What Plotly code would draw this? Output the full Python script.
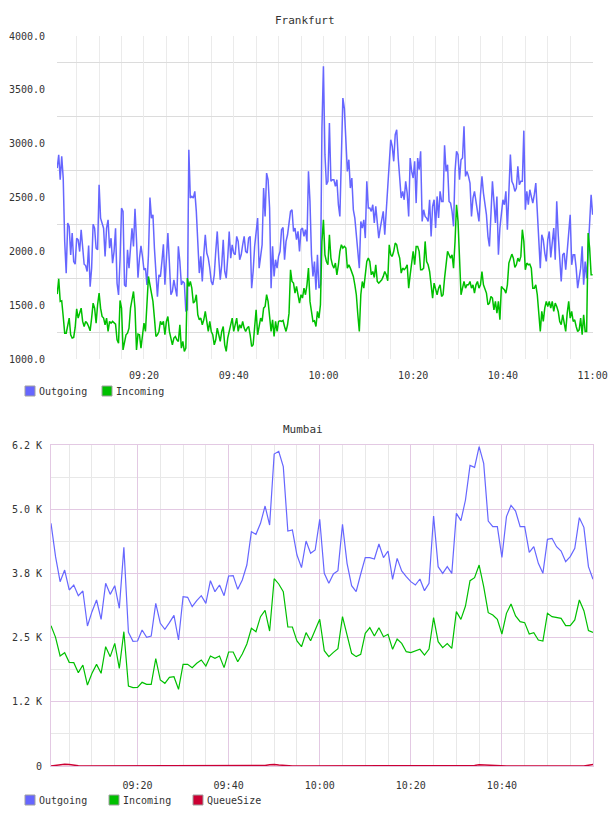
import pandas as pd
import plotly.graph_objects as go

# ---------------- Frankfurt (20 s samples, 09:00:40 .. 11:00:00) ----------------
fra_start = "2024-01-01 09:00:40"
fra_n = 359
fra_outgoing = [
    2773, 2897, 2665, 2882, 2680, 2091, 1797, 2262, 2231, 1967,
    2169, 1905, 1880, 2122, 2107, 1998, 2200, 1998, 1880, 1868,
    1812, 2054, 1672, 1843, 2252, 2215, 2029, 2014, 2618, 2308,
    2246, 2215, 1952, 2215, 2292, 2029, 2122, 1889, 1998, 2215,
    1703, 1595, 1921, 2401, 2370, 1688, 1672, 2014, 1843, 2045,
    2215, 2045, 2395, 2107, 1756, 1936, 2051, 1952, 1827, 1843,
    1688, 1967, 2500, 2308, 2339, 2029, 1781, 1579, 1781, 1765,
    1905, 2066,
    1689, 2000, 2170, 1891, 1597, 1628, 1736, 1658, 1581, 2046,
    1906, 1689, 1720, 1705, 1442, 1457, 2944, 2495, 2510, 2495,
    2557, 2371, 2123, 1798, 1953, 1720, 1968, 2154, 1984, 1937,
    1844, 1720, 1689, 1782, 2000, 2185, 1937, 1736, 1875, 2108,
    1813, 1751, 1937, 2185, 1937, 2061, 1984, 1968, 2139, 2092,
    1922, 1968, 2061, 2139, 2000, 1984, 2123, 2139, 1658, 1813,
    2046, 2201, 2309, 1844, 1968, 2061, 2588, 2324, 2727, 2665,
    2402, 1658,
    2046, 1767, 1922, 1844, 1953, 2000, 2201, 2222, 1922, 2092,
    2154, 2278, 2371, 2386, 2185, 2216, 2108, 2185, 2000, 2201,
    2216, 2139, 2201, 2092, 2743, 2464, 1968, 1767, 1906, 1643,
    1968, 1658, 1689, 3145, 3719, 2898, 2619, 2650, 3192, 2650,
    2665, 2665, 2603, 2665, 2433, 2324, 3052, 3424, 3325, 3037,
    2743, 2851, 2588, 2681, 2386, 2309, 2170, 1968, 1844, 2278,
    2216, 2293, 2123, 2650, 2402, 2402, 2371, 2433, 2263, 2417,
    2247, 2123,
    2216, 2293, 2371, 2154, 2371, 2650, 2805, 3037, 2975, 2836,
    3083, 3130, 2867, 2634, 2495, 2557, 2479, 2650, 2541, 2324,
    2867, 2743, 2681, 2836, 2448, 2867, 2758, 2929, 2278, 2386,
    2324, 2309, 2278, 2479, 2139, 2417, 2479, 2216, 2510, 2309,
    2557, 2464, 2464, 2984, 2743, 2805, 2464, 2448, 2371, 2232,
    2743, 2929, 2898, 2665, 2851, 2867, 3161, 2696, 2743, 2696,
    2634, 2324, 2495, 2557, 2464, 2371, 2278, 2526, 2696, 2541,
    2433, 2340,
    2139, 2046, 2340, 2650, 2464, 2263, 2510, 1968, 2216, 2371,
    2479, 2433, 2557, 2201, 2588, 2898, 2650, 2619, 2557, 2588,
    2789, 2619, 2650, 2650, 3121, 2386, 2557, 2433, 2572, 2495,
    2448, 2526, 2634, 2371, 2092, 1844, 2154, 2108, 1984, 1906,
    2108, 2185, 1943, 2123, 2216, 1922, 2464, 2154, 1937, 1720,
    1968, 1984, 1829, 2030, 2139, 2340, 1875, 1968, 1968, 1844,
    1658, 1751, 1844, 2046, 1689, 1906, 1751, 2000, 2278, 2526,
    2340,
]
fra_incoming = [
    1603, 1745, 1535, 1541, 1395, 1240, 1240, 1324, 1380, 1225,
    1194, 1200, 1293, 1466, 1380, 1426, 1472, 1349, 1302, 1349,
    1333, 1302, 1262, 1380, 1519, 1472, 1333, 1504, 1612, 1472,
    1395, 1380, 1318, 1380, 1256, 1349, 1333, 1349, 1333, 1324,
    1178, 1147, 1544, 1472, 1085, 1163, 1225, 1240, 1287, 1472,
    1566, 1627, 1472, 1085, 1231, 1225, 1101, 1209, 1333, 1256,
    1566, 1767, 1689, 1627, 1535, 1380, 1209, 1225, 1256, 1349,
    1318, 1349,
    1225, 1349, 1395, 1256, 1194, 1132, 1194, 1209, 1178, 1163,
    1318, 1101, 1163, 1070, 1101, 1751, 1674, 1720, 1658, 1519,
    1535, 1597, 1411, 1364, 1380, 1318, 1364, 1442, 1349, 1256,
    1349, 1256, 1225, 1132, 1178, 1287, 1225, 1163, 1256, 1302,
    1132, 1070, 1194, 1256, 1287, 1380, 1256, 1333, 1380, 1256,
    1318, 1287, 1349, 1287, 1256, 1287, 1302, 1225, 1116, 1132,
    1318, 1457, 1225, 1318, 1380, 1349, 1472, 1488, 1597, 1535,
    1349, 1256,
    1364, 1209, 1349, 1256, 1349, 1355, 1349, 1358, 1302, 1256,
    1318, 1426, 1829, 1720, 1705, 1612, 1674, 1612, 1519, 1597,
    1566, 1658, 1597, 1689, 1844, 1535, 1426, 1349, 1355, 1302,
    1442, 1380, 1504, 2092, 2293, 1968, 1906, 1875, 2154, 1937,
    1875, 1844, 1891, 1782, 1875, 2000, 2061, 2030, 2046, 2030,
    1844, 1875, 1844, 1813, 1767, 1689, 1597, 1411, 1256, 1597,
    1720, 1658, 1782, 1906, 1937, 1906, 1782, 1813, 1757, 1875,
    1720, 1705,
    1720, 1736, 1767, 1813, 1782, 1727, 2061, 1968, 1953, 2000,
    2077, 2061, 1984, 1937, 1798, 1844, 1829, 1844, 1875, 1658,
    1782, 1906, 2000, 1875, 2046, 2046, 2000, 1829, 1829, 1844,
    2092, 1906, 1875, 1813, 1658, 1566, 1705, 1658, 1597, 1658,
    1689, 1581, 1597, 1751, 1906, 2000, 1968, 1937, 1968, 1844,
    2092, 2433, 2278, 1844, 1597, 1658, 1720, 1658, 1689, 1689,
    1720, 1658, 1689, 1612, 1689, 1720, 1658, 1689, 1813, 1689,
    1658, 1612,
    1504, 1519, 1581, 1566, 1457, 1535, 1426, 1535, 1364, 1674,
    1658, 1643, 1612, 1689, 1891, 1931, 1974, 1937, 1850, 1875,
    1937, 1906, 1953, 2201, 2092, 1829, 1891, 1875, 1881, 1844,
    1658, 1658, 1689, 1597, 1380, 1256, 1442, 1349, 1472, 1535,
    1488, 1535, 1472, 1535, 1442, 1519, 1488, 1442, 1349, 1318,
    1411, 1349, 1256, 1426, 1535, 1380, 1442, 1349, 1364, 1302,
    1256, 1271, 1380, 1225, 1411, 1256, 1256, 2170, 2030, 1782,
    1782,
]
fra_yticks = [1000, 1500, 2000, 2500, 3000, 3500, 4000]

# ---------------- Mumbai (1 min samples, 09:01 .. 11:00) ----------------
mum_start = "2024-01-01 09:01"
mum_n = 120
mum_outgoing = [
    4725, 4076, 3589, 3816, 3427, 3524, 3316, 3407, 2726, 3005,
    3232, 2856, 3557, 3342, 3511, 3070, 4257, 2602, 2427, 2434,
    2648, 2505, 2531, 3167, 2778, 2661, 2791, 2933, 2453, 3297,
    3284, 3102, 3219, 3316, 3167, 3608, 3394, 3524, 3316, 3699,
    3706, 3440, 3621, 3913, 4562, 4511, 4725, 5062, 4692, 6075,
    6127, 5828, 4575, 4595, 4108, 3862, 4381, 4141, 4206, 4803,
    3751, 3557, 3738, 3803, 4705, 3946, 3511, 3394, 3738, 4056,
    4056, 4030, 4322, 4056, 4186, 3634, 4043, 3797, 3686, 3589,
    3524, 3641, 3414, 3557, 4868, 3881, 3751, 3881, 3751, 4919,
    4777, 5179, 5854, 5815, 6217, 5893, 4770, 4660, 4660, 4063,
    4855, 5075, 4965, 4660, 4660, 4160, 4270, 3946, 3751, 4413,
    4433, 4270, 4186, 3978, 4076, 4238, 4835, 4647, 3881, 3634,
]
mum_incoming = [
    2732, 2505, 2142, 2207, 2018, 2012, 1817, 1966, 1577, 1804,
    1979, 1804, 2323, 2129, 2388, 1902, 2615, 1558, 1525, 1532,
    1629, 1590, 1590, 2090, 1674, 1610, 1726, 1739, 1493, 1979,
    1979, 1915, 1999, 2064, 1947, 2142, 2096, 2142, 1915, 2220,
    2220, 2031, 2181, 2375, 2680, 2615, 2908, 3031, 2628, 3647,
    3544, 3394, 2706, 2706, 2434, 2323, 2596, 2440, 2648, 2856,
    2246, 2129, 2213, 2284, 2908, 2551, 2194, 2129, 2174, 2583,
    2693, 2531, 2693, 2518, 2564, 2272, 2473, 2388, 2226, 2207,
    2239, 2272, 2161, 2278, 2888, 2421, 2304, 2382, 2291, 3005,
    2856, 3115, 3608, 3667, 3913, 3492, 2985, 2940, 2856, 2570,
    2972, 3154, 2921, 2810, 2791, 2570, 2596, 2453, 2434, 2972,
    2908, 2888, 2875, 2732, 2732, 2843, 3232, 3024, 2635, 2602,
]
mum_queue = [
    0, 10, 25, 35, 30, 15, 5, 0, 0, 0,
    0, 0, 0, 0, 0, 0, 0, 0, 0, 0,
    0, 0, 0, 0, 0, 0, 0, 0, 0, 0,
    0, 0, 0, 0, 0, 0, 0, 0, 0, 0,
    0, 0, 0, 0, 0, 0, 0, 10, 25, 30,
    20, 10, 0, 0, 0, 0, 0, 0, 0, 0,
    0, 0, 0, 0, 0, 0, 0, 0, 0, 0,
    0, 0, 0, 0, 0, 0, 0, 0, 0, 0,
    0, 0, 0, 0, 0, 0, 0, 0, 0, 0,
    0, 0, 0, 10, 25, 20, 10, 0, 0, 0,
    0, 0, 0, 0, 0, 0, 0, 0, 0, 0,
    0, 0, 0, 0, 0, 0, 0, 0, 15, 30,
]
mum_yticks = [0, 1250, 2500, 3750, 5000, 6250]
mum_yticktext = ["0", "1.2 K", "2.5 K", "3.8 K", "5.0 K", "6.2 K"]

BLUE = "#6666ff"
GREEN = "#00c000"
RED = "#cc0033"
FONT = "DejaVu Sans Mono"
TXT = "#333333"

fra_t = pd.date_range(fra_start, periods=fra_n, freq="20s")
mum_t = pd.date_range(mum_start, periods=mum_n, freq="1min")

fig = go.Figure()

fig.add_trace(go.Scatter(x=fra_t, y=fra_outgoing, name="Outgoing", mode="lines",
                         line=dict(color=BLUE, width=1.5), xaxis="x", yaxis="y", hoverinfo="skip"))
fig.add_trace(go.Scatter(x=fra_t, y=fra_incoming, name="Incoming", mode="lines",
                         line=dict(color=GREEN, width=1.5), xaxis="x", yaxis="y", hoverinfo="skip"))

fig.add_trace(go.Scatter(x=mum_t, y=mum_outgoing, name="Outgoing", mode="lines",
                         line=dict(color=BLUE, width=1.2), xaxis="x2", yaxis="y2", hoverinfo="skip"))
fig.add_trace(go.Scatter(x=mum_t, y=mum_incoming, name="Incoming", mode="lines",
                         line=dict(color=GREEN, width=1.2), xaxis="x2", yaxis="y2", hoverinfo="skip"))
fig.add_trace(go.Scatter(x=mum_t, y=mum_queue, name="QueueSize", mode="lines",
                         line=dict(color=RED, width=1.5), xaxis="x2", yaxis="y2", hoverinfo="skip"))

W, H = 608, 816
tickfont = dict(family=FONT, size=10, color=TXT)

# legends drawn as swatch + label (flot-style legend below each chart)
legend_rows = [
    (391, [("Outgoing", BLUE, 25), ("Incoming", GREEN, 102)]),
    (800, [("Outgoing", BLUE, 25), ("Incoming", GREEN, 109), ("QueueSize", RED, 193)]),
]
shapes, annotations = [], []
for ypx, items in legend_rows:
    for label, col, xpx in items:
        shapes.append(dict(type="rect", xref="paper", yref="paper",
                           x0=xpx / W, x1=(xpx + 10) / W,
                           y0=1 - (ypx + 5) / H, y1=1 - (ypx - 5) / H,
                           fillcolor=col, line=dict(color="#a0a0a0", width=1)))
        annotations.append(dict(text=label, xref="paper", yref="paper",
                                x=(xpx + 12) / W, y=1 - ypx / H,
                                xanchor="left", yanchor="middle", showarrow=False,
                                font=dict(family=FONT, size=10, color=TXT)))

annotations += [
    dict(text="Frankfurt", xref="paper", yref="paper", x=305 / W, y=1 - 20 / H,
         xanchor="center", yanchor="middle", showarrow=False,
         font=dict(family=FONT, size=11, color=TXT)),
    dict(text="Mumbai", xref="paper", yref="paper", x=303 / W, y=1 - 429 / H,
         xanchor="center", yanchor="middle", showarrow=False,
         font=dict(family=FONT, size=11, color=TXT)),
]

fig.update_layout(
    width=W, height=H, autosize=False,
    margin=dict(l=0, r=0, t=0, b=0, pad=0, autoexpand=False),
    paper_bgcolor="white", plot_bgcolor="white",
    font=dict(family=FONT, size=10, color=TXT),
    showlegend=False,
    xaxis=dict(
        domain=[57 / W, 593 / W], anchor="y", type="date", automargin=False,
        range=["2024-01-01 09:00:37", "2024-01-01 11:00:05"],
        tick0="2024-01-01 09:00", dtick=20 * 60 * 1000, tickformat="%H:%M",
        showgrid=True, gridcolor="#ebebeb", gridwidth=1,
        minor=dict(tick0="2024-01-01 09:00", dtick=5 * 60 * 1000, showgrid=True, gridcolor="#ebebeb"),
        showline=False, zeroline=False, ticks="", ticklabelstandoff=9, tickfont=tickfont,
    ),
    yaxis=dict(
        domain=[1 - 359 / H, 1 - 36 / H], anchor="x", automargin=False,
        range=[1000, 4000], tickvals=fra_yticks, tickformat=".1f",
        showgrid=False,
        minor=dict(tickmode="array", tickvals=[1250, 1750, 2250, 2750, 3250, 3750],
                   showgrid=True, gridcolor="#dcdcdc"),
        showline=False, zeroline=False, ticks="", ticklabelstandoff=11, tickfont=tickfont,
    ),
    xaxis2=dict(
        domain=[51 / W, 593 / W], anchor="y2", type="date", automargin=False,
        range=["2024-01-01 09:01", "2024-01-01 11:00"],
        tick0="2024-01-01 09:00", dtick=20 * 60 * 1000, tickformat="%H:%M",
        showgrid=True, gridcolor="#e3c9e3", gridwidth=1,
        minor=dict(tick0="2024-01-01 09:00", dtick=5 * 60 * 1000, showgrid=True, gridcolor="#e8e8e8"),
        showline=True, linecolor="#e3c9e3", mirror=True,
        zeroline=False, ticks="", ticklabelstandoff=10, tickfont=tickfont,
    ),
    yaxis2=dict(
        domain=[1 - 766 / H, 1 - 445 / H], anchor="x2", automargin=False,
        range=[0, 6250], tickvals=mum_yticks, ticktext=mum_yticktext,
        showgrid=True, gridcolor="#e3c9e3",
        minor=dict(dtick=625, showgrid=True, gridcolor="#e8e8e8"),
        showline=True, linecolor="#e3c9e3", mirror=True,
        zeroline=False, ticks="", ticklabelstandoff=6, tickfont=tickfont,
    ),
    shapes=shapes,
    annotations=annotations,
)

fig.write_html("out.html", config={"displayModeBar": False})
